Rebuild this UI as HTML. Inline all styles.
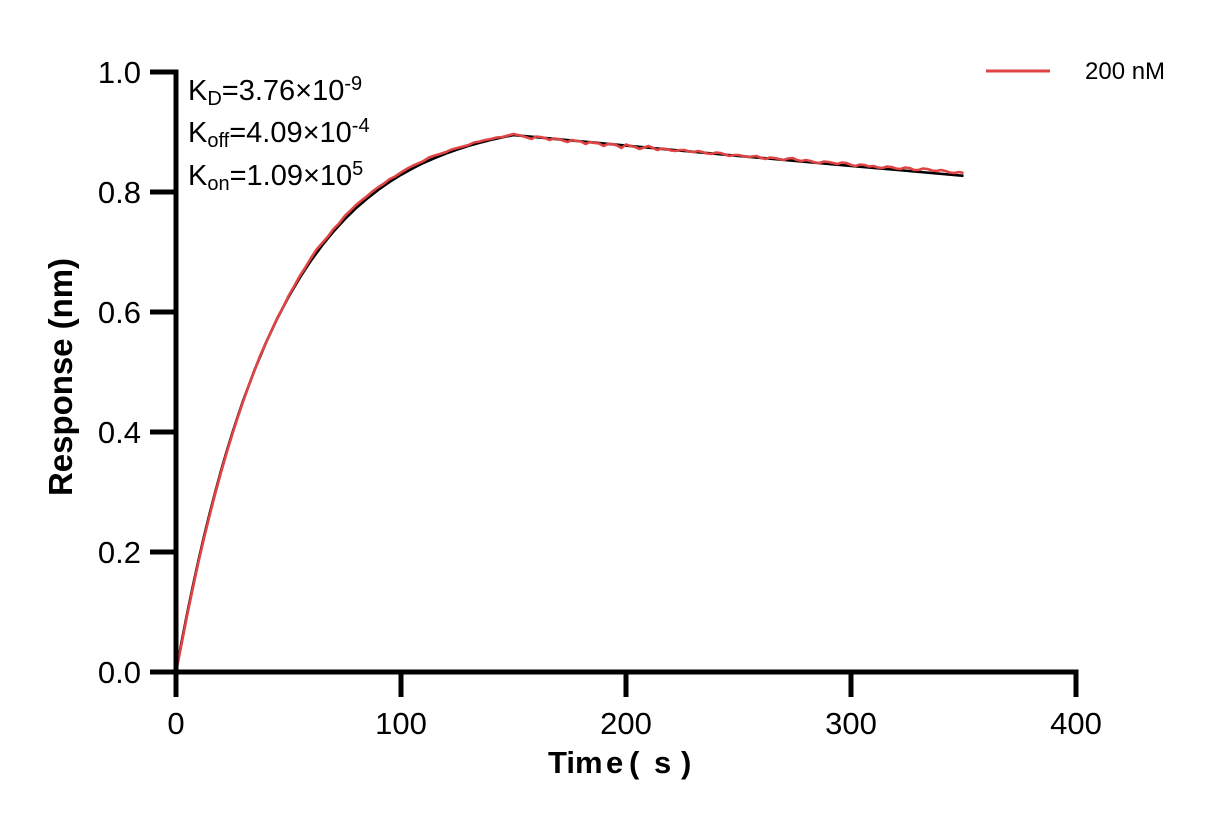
<!DOCTYPE html>
<html><head><meta charset="utf-8"><style>
html,body{margin:0;padding:0;background:#fff;}
svg{display:block;}
text{font-family:"Liberation Sans",Arial,sans-serif;fill:#000;}
</style></head><body>
<svg width="1212" height="825" viewBox="0 0 1212 825" xmlns="http://www.w3.org/2000/svg">
<rect width="1212" height="825" fill="#fff"/>
<!-- fit curve -->
<polyline fill="none" stroke="#000" stroke-width="2.6" stroke-linejoin="round" points="176,672 181.6,641.7 187.25,613 192.9,585.9 198.5,560.3 204.1,536 209.75,513.1 215.4,491.5 221,470.9 226.6,451.6 232.25,433.3 237.9,416 243.5,399.6 254.75,369.5 266,342.6 277.25,318.5 288.5,297 299.75,277.8 311,260.6 322.25,245.2 333.5,231.5 344.75,219.2 356,208.2 367.25,198.5 378.5,189.7 389.75,181.8 401,174.8 412.25,168.6 423.5,162.9 434.75,158 446,153.5 457.25,149.5 468.5,145.9 479.75,142.7 491,139.9 502.25,137.3 513.5,135.1 626,145.6 738.5,155.9 851,165.9 963.5,175.8"/>
<!-- data -->
<polyline fill="none" stroke="#e04444" stroke-width="2.6" stroke-linejoin="round" points="176,672 181.6,644 187.25,615 192.9,588 198.5,562 204.1,538 209.75,515 215.4,493 221,472.5 226.6,453 232.25,434.5 237.9,417 243.5,400.5 249,385 254.75,370 260,356 266,342.5 271.5,330.5 277.25,318 283,307.5 288.5,296 294,286.5 299.75,276 305,268 311,258 316.6,249.5 322.25,243 328,236.5 333.5,229 339,223.5 344.75,216 350,211 356,205 361.5,200.5 367.25,196 373,191 378.5,187 384,183.5 389.75,179 395,176.5 401,172.5 406.5,169 412.25,166 418,163.5 423.5,161 429,157.5 434.75,155.5 440,154 446,152 451.5,149.5 457.25,148 463,146.5 468.5,145 474,142.5 479.75,141.5 485,140 491,139 496.5,137.5 502.25,137 508,135.5 513.5,134 518,135 522.5,136 527,137.5 531.5,139 536,136.5 540.5,137 545,138 549.5,140 554,138.5 558.5,139 563,140.5 567.5,142 572,140 576.5,141 581,141.5 585.5,144 590,142 594.5,143 599,143.5 603.5,146 608,144 612.5,144 617,145.5 621.5,148 626,144.5 630.5,146 635,147 639.5,149 644,147.5 648.5,146 653,148 657.5,150 662,148.5 666.5,149 671,150.5 675.5,151 680,150 684.5,150 689,151.5 693.5,152 698,151 702.5,152 707,153.5 711.5,154 716,152.5 720.5,153 725,154.5 729.5,156 734,155 738.5,155 743,156 747.5,157 752,156.5 756.5,156 761,158 765.5,159 770,157.5 774.5,158 779,159 783.5,160 788,158.5 792.5,158 797,160 801.5,161 806,160 810.5,161 815,162.5 819.5,163 824,161.5 828.5,162 833,163 837.5,164 842,162.5 846.5,163 851,165 855.5,166 860,164.5 864.5,165 869,166.5 873.5,166 878,167.5 882.5,168 887,166.5 891.5,167 896,168.5 900.5,169 905,167.5 909.5,168 914,170 918.5,170 923,168.5 927.5,169 932,170.5 936.5,171 941,170 945.5,171 950,172.5 954.5,173 959,172 963.5,173"/>
<!-- axes -->
<g stroke="#000" stroke-width="5" fill="none">
<line x1="176" y1="69.5" x2="176" y2="674.5"/>
<line x1="173.5" y1="672" x2="1078.5" y2="672"/>
<line x1="150" y1="72" x2="176" y2="72"/>
<line x1="150" y1="192" x2="176" y2="192"/>
<line x1="150" y1="312" x2="176" y2="312"/>
<line x1="150" y1="432" x2="176" y2="432"/>
<line x1="150" y1="552" x2="176" y2="552"/>
<line x1="150" y1="672" x2="176" y2="672"/>
<line x1="176" y1="672" x2="176" y2="697"/>
<line x1="401" y1="672" x2="401" y2="697"/>
<line x1="626" y1="672" x2="626" y2="697"/>
<line x1="851" y1="672" x2="851" y2="697"/>
<line x1="1076" y1="672" x2="1076" y2="697"/>
</g>
<!-- y tick labels -->
<g font-size="31" text-anchor="end">
<text x="141" y="83">1.0</text>
<text x="141" y="203">0.8</text>
<text x="141" y="323">0.6</text>
<text x="141" y="443">0.4</text>
<text x="141" y="563">0.2</text>
<text x="141" y="683">0.0</text>
</g>
<!-- x tick labels -->
<g font-size="31" text-anchor="middle">
<text x="176" y="734">0</text>
<text x="401" y="734">100</text>
<text x="626" y="734">200</text>
<text x="851" y="734">300</text>
<text x="1076" y="734">400</text>
</g>
<!-- axis titles -->
<text y="773" font-size="31" font-weight="bold"><tspan x="548">Tim</tspan><tspan x="606">e</tspan><tspan x="629">(</tspan><tspan x="654">s</tspan><tspan x="681">)</tspan></text>
<text transform="translate(72,377) rotate(-90)" font-size="33" font-weight="bold" text-anchor="middle" textLength="238" lengthAdjust="spacingAndGlyphs">Response (nm)</text>
<!-- annotations -->
<g font-size="29">
<text x="188" y="100">K<tspan font-size="20" dy="5">D</tspan><tspan dy="-5">=3.76×10</tspan><tspan font-size="20" dy="-10">-9</tspan></text>
<text x="188" y="142">K<tspan font-size="20" dy="5">off</tspan><tspan dy="-5">=4.09×10</tspan><tspan font-size="20" dy="-10">-4</tspan></text>
<text x="188" y="185">K<tspan font-size="20" dy="5">on</tspan><tspan dy="-5">=1.09×10</tspan><tspan font-size="20" dy="-10">5</tspan></text>
</g>
<!-- legend -->
<line x1="986" y1="71" x2="1050" y2="71" stroke="#e04444" stroke-width="3"/>
<text x="1085" y="79" font-size="24">200 nM</text>
</svg>
</body></html>
